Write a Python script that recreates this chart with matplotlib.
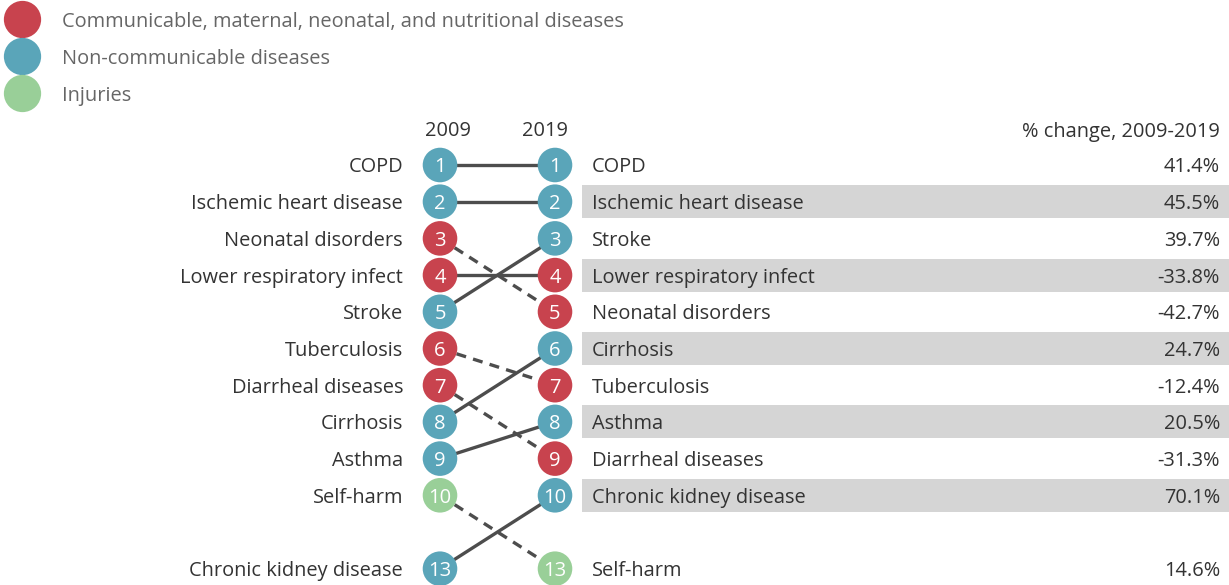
import numpy as np
import matplotlib
matplotlib.use('Agg')
import matplotlib.pyplot as plt

plt.rcParams['font.family'] = ['Open Sans', 'DejaVu Sans']

# data
causes = ['COPD', 'Ischemic heart disease', 'Neonatal disorders', 'Lower respiratory infect',
          'Stroke', 'Tuberculosis', 'Diarrheal diseases', 'Cirrhosis', 'Asthma',
          'Self-harm', 'Chronic kidney disease']
rank_2009 = [1, 2, 3, 4, 5, 6, 7, 8, 9, 10, 13]
rank_2019 = [1, 2, 5, 4, 3, 7, 9, 6, 8, 13, 10]
group = ['N', 'N', 'C', 'C', 'N', 'C', 'C', 'N', 'N', 'I', 'N']
pct_change = [41.4, 45.5, -42.7, -33.8, 39.7, -12.4, -31.3, 24.7, 20.5, 14.6, 70.1]

legend_labels = ['Communicable, maternal, neonatal, and nutritional diseases',
                 'Non-communicable diseases', 'Injuries']
colors = {'C': '#c8434e', 'N': '#5aa5b9', 'I': '#99cf98'}
text_col = '#333333'
fs = 14.4

# rank 13 sits one empty row below rank 10
def slot(r):
    return np.where(np.asarray(r) > 10, 12, np.asarray(r))

s09 = slot(rank_2009)
s19 = slot(rank_2019)

fig = plt.figure(figsize=(12.29, 5.85), dpi=100)
ax = fig.add_axes([0, 0, 1, 1])
ax.set_xlim(0, 1229)
row_h = 36.7
ax.set_ylim(1 + (585 - 165) / row_h, 1 - 165 / row_h)
ax.axis('off')

x09, x19 = 440, 555

# grey bands behind even 2019 rows
for i in range(len(causes)):
    if rank_2019[i] % 2 == 0 and rank_2019[i] <= 10:
        ax.barh(s19[i], 1229 - 582, left=582, height=0.9, color='#d5d5d5', zorder=0)

# connecting lines
for i in range(len(causes)):
    ls = (0, (3, 2.2)) if rank_2019[i] > rank_2009[i] else '-'
    ax.plot([x09, x19], [s09[i], s19[i]], color='#4d4d4d', lw=2.4, ls=ls, zorder=1)

cols = [colors[g] for g in group]
ax.scatter([x09] * len(causes), s09, s=620, c=cols, zorder=2, linewidths=0)
ax.scatter([x19] * len(causes), s19, s=620, c=cols, zorder=2, linewidths=0)

for i, name in enumerate(causes):
    ax.text(x09, s09[i], str(rank_2009[i]), color='white', fontsize=14.5,
            ha='center', va='center_baseline', zorder=3)
    ax.text(x19, s19[i], str(rank_2019[i]), color='white', fontsize=14.5,
            ha='center', va='center_baseline', zorder=3)
    ax.text(403, s09[i], name, color=text_col, fontsize=fs, ha='right', va='center_baseline')
    ax.text(592, s19[i], name, color=text_col, fontsize=fs, ha='left', va='center_baseline')
    ax.text(1220, s19[i], f'{pct_change[i]:.1f}%', color=text_col, fontsize=fs,
            ha='right', va='center_baseline')

# headers
hy = 1 - (165 - 129) / row_h
ax.text(448, hy, '2009', color=text_col, fontsize=fs, ha='center', va='center_baseline')
ax.text(545, hy, '2019', color=text_col, fontsize=fs, ha='center', va='center_baseline')
ax.text(1220, hy, '% change, 2009-2019', color=text_col, fontsize=fs, ha='right', va='center_baseline')

# legend
for k, (g, lab) in enumerate(zip(['C', 'N', 'I'], legend_labels)):
    ly = 1 - (165 - (19 + 37 * k)) / row_h
    ax.scatter([22], [ly], s=720, color=colors[g], linewidths=0, clip_on=False)
    ax.text(62, ly, lab, color='#666666', fontsize=fs, ha='left', va='center_baseline')

fig.savefig('out.png', dpi=100)
